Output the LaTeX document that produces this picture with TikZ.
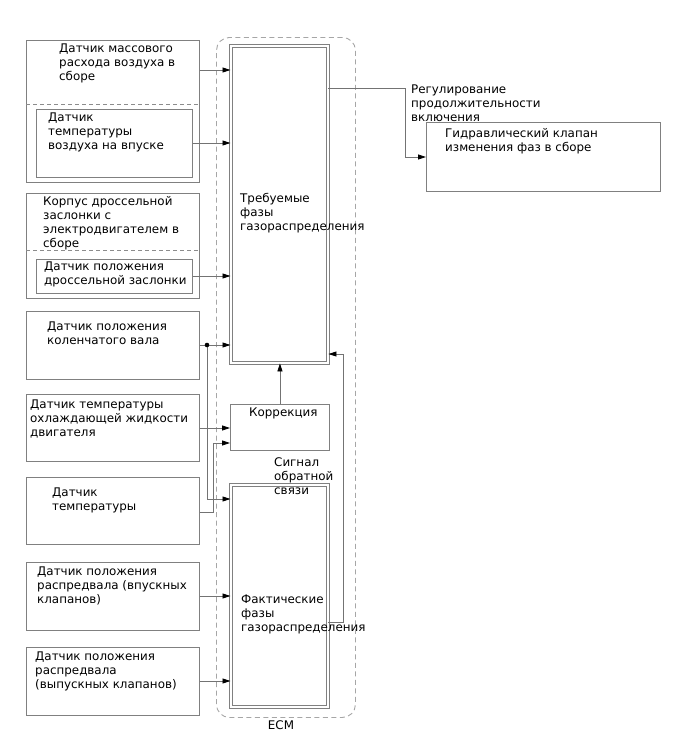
\documentclass[tikz,border=0pt]{standalone}
\usepackage{fontspec}
\setmainfont{DejaVu Sans}
\usetikzlibrary{arrows.meta, positioning}

\newcommand{\lblfont}{\fontsize{11.9}{14}\selectfont}

\tikzset{
  box/.style={draw=black!50, line width=0.9pt, fill=white, inner sep=0pt, anchor=north west},
  dblbox/.style={box, double=white, double distance=1.8pt},
  lbl/.style={anchor=north west, inner sep=0pt, align=left, font=\lblfont},
  wire/.style={draw=black!55, line width=0.8pt},
  arr/.style={wire, -{Triangle[length=8pt, width=5pt, color=black]}},
  divline/.style={draw=black!45, line width=0.8pt, dash pattern=on 4pt off 3pt},
}

\begin{document}
\begin{tikzpicture}[x=1pt, y=-1pt]
    \useasboundingbox (0,0) rectangle (688,755);

    % ECM frame
    \node[box, draw=black!35, dash pattern=on 5pt off 3.5pt, rounded corners=13pt, fill=none,
          minimum width=139, minimum height=680] (ecm) at (216,37) {};
    \node[font=\lblfont] (ecmlbl) at (281,725) {ECM};

    % sensors on the left
    \node[box, minimum width=173, minimum height=142] (maf) at (26,40) {};
    \node[box, minimum width=156, minimum height=68] (iat) at (36,109) {};
    \node[box, minimum width=173, minimum height=105] (tb) at (26,193) {};
    \node[box, minimum width=156, minimum height=34] (tps) at (36,259) {};
    \node[box, minimum width=173, minimum height=68] (ckp) at (26,311) {};
    \node[box, minimum width=173, minimum height=67] (ect) at (26,394) {};
    \node[box, minimum width=173, minimum height=67] (tmp) at (26,477) {};
    \node[box, minimum width=173, minimum height=68] (cmpin) at (26,562) {};
    \node[box, minimum width=173, minimum height=68] (cmpex) at (26,647) {};
    \draw[divline] (maf.west |- 0,104) -- (maf.east |- 0,104);
    \draw[divline] (tb.west |- 0,250) -- (tb.east |- 0,250);

    \node[lbl] (maftxt) at (59,44) {Датчик массового\\расхода воздуха в\\сборе};
    \node[lbl] (iattxt) at (48,113) {Датчик\\температуры\\воздуха на впуске};
    \node[lbl] (tbtxt) at (43,196) {Корпус дроссельной\\заслонки с\\электродвигателем в\\сборе};
    \node[lbl] (tpstxt) at (44,262) {Датчик положения\\дроссельной заслонки};
    \node[lbl] (ckptxt) at (47,322) {Датчик положения\\коленчатого вала};
    \node[lbl] (ecttxt) at (30,400) {Датчик температуры\\охлаждающей жидкости\\двигателя};
    \node[lbl] (tmptxt) at (52,488) {Датчик\\температуры};
    \node[lbl] (cmpintxt) at (37,567) {Датчик положения\\распредвала (впускных\\клапанов)};
    \node[lbl] (cmpextxt) at (35,652) {Датчик положения\\распредвала\\(выпускных клапанов)};

    % ECM blocks
    \node[dblbox, minimum width=97, minimum height=317] (req) at (230.5,45.5) {};
    \node[box, minimum width=99, minimum height=46] (corr) at (230,404) {};
    \node[dblbox, minimum width=97, minimum height=222] (act) at (230.5,484.5) {};
    \node[lbl] (reqtxt) at (240,193) {Требуемые\\фазы\\газораспределения};
    \node[lbl] (corrtxt) at (249,408) {Коррекция};
    \node[lbl] (fbtxt) at (274,457) {Сигнал\\обратной\\связи};
    \node[lbl] (acttxt) at (241,595) {Фактические\\фазы\\газораспределения};

    % actuator
    \node[box, minimum width=234, minimum height=69] (valve) at (426,122) {};
    \node[lbl] (valvetxt) at (445,128) {Гидравлический клапан\\изменения фаз в сборе};
    \node[lbl] (dutytxt) at (411,85) {Регулирование\\продолжительности\\включения};

    % signal lines
    \draw[arr] (maf.east |- 0,70) -- (req.west |- 0,70);
    \draw[arr] (iat.east |- 0,143) -- (req.west |- 0,143);
    \draw[arr] (tps.east |- 0,276) -- (req.west |- 0,276);
    \coordinate (ckpjn) at (207,345);
    \draw[arr] (ckp.east |- ckpjn) -- (req.west |- ckpjn);
    \draw[arr] (ckpjn) |- (act.west |- 0,499);
    \fill (ckpjn) circle (2.3pt);
    \draw[arr] (ect.east |- 0,428) -- (corr.west |- 0,428);
    \coordinate (tmpbend) at (213,443);
    \draw[arr] (tmp.east |- 0,512) -| (tmpbend) -- (corr.west |- tmpbend);
    \draw[arr] (cmpin.east |- 0,596) -- (act.west |- 0,596);
    \draw[arr] (cmpex.east |- 0,681) -- (act.west |- 0,681);
    \draw[arr] (corr.north) -- (corr.north |- req.south);
    \coordinate (fbtop) at (343,354);
    \draw[arr] (act.east |- 0,622) -| (fbtop) -- (req.east |- fbtop);
    \coordinate (outbend) at (405,157);
    \draw[arr] (req.east |- 0,88) -| (outbend) -- (valve.west |- outbend);
\end{tikzpicture}
\end{document}
